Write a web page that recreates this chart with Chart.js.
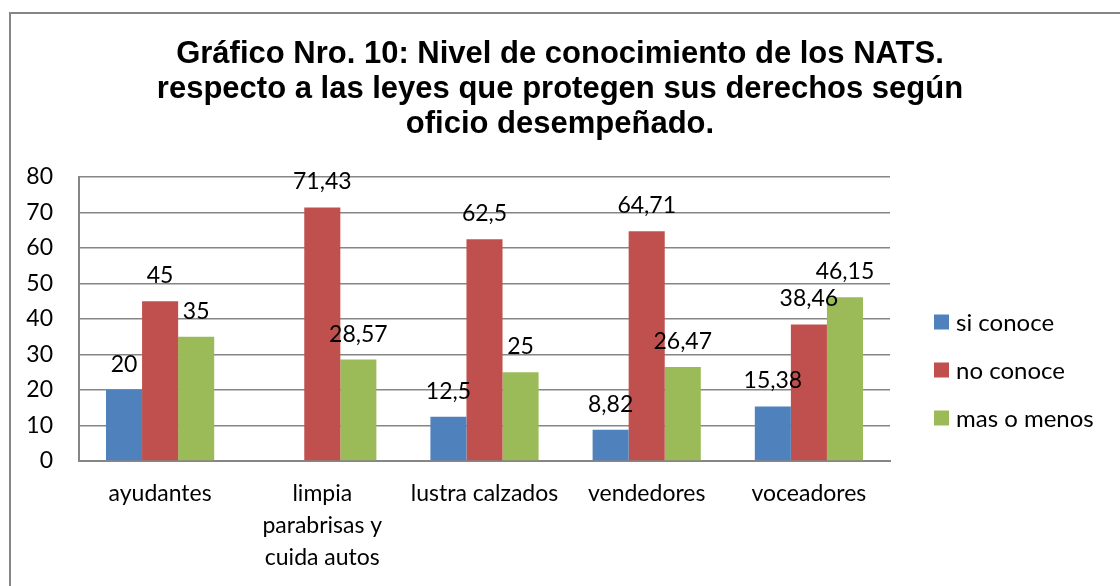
<!DOCTYPE html>
<html>
<head>
<meta charset="utf-8">
<script src="https://cdn.jsdelivr.net/npm/chart.js@4.4.1/dist/chart.umd.min.js"></script>
<style>
  html, body { margin: 0; padding: 0; background: #fff; }
  #wrap { width: 1120px; height: 586px; position: relative; }
</style>
</head>
<body>
<div id="wrap"><canvas id="c" width="1120" height="586"></canvas></div>
<script>
const categories = ['ayudantes', ['limpia', 'parabrisas y', 'cuida autos'], 'lustra calzados', 'vendedores', 'voceadores'];
const seriesNames = ['si conoce', 'no conoce', 'mas o menos'];
const siConoce = [20, null, 12.5, 8.82, 15.38];
const noConoce = [45, 71.43, 62.5, 64.71, 38.46];
const masOMenos = [35, 28.57, 25, 26.47, 46.15];
const yTicks = [0, 10, 20, 30, 40, 50, 60, 70, 80];
const titleLines = ['Gráfico Nro. 10: Nivel de conocimiento de los NATS.', 'respecto a las leyes que protegen sus derechos según', 'oficio desempeñado.'];

const colors = ['#4F81BD', '#C0504D', '#9BBB59'];
const bodyFont = 'Lato, "Open Sans", sans-serif';

const framePlugin = {
  id: 'frame',
  beforeDraw(chart) {
    const ctx = chart.ctx;
    ctx.save();
    ctx.fillStyle = '#fff';
    ctx.fillRect(0, 0, chart.width, chart.height);
    ctx.strokeStyle = '#868686';
    ctx.lineWidth = 2;
    ctx.beginPath();
    ctx.moveTo(10, chart.height + 2);
    ctx.lineTo(10, 13);
    ctx.lineTo(chart.width + 2, 13);
    ctx.stroke();
    ctx.restore();
  }
};

const labelPlugin = {
  id: 'valueLabels',
  afterDatasetsDraw(chart) {
    const ctx = chart.ctx;
    ctx.save();
    ctx.font = '23px ' + bodyFont;
    ctx.fillStyle = '#000';
    ctx.textAlign = 'center';
    ctx.textBaseline = 'alphabetic';
    chart.data.datasets.forEach((ds, i) => {
      const meta = chart.getDatasetMeta(i);
      meta.data.forEach((bar, j) => {
        const v = ds.data[j];
        if (v === null || v === undefined) return;
        ctx.fillText(String(v).replace('.', ','), bar.x, bar.y - 18);
      });
    });
    ctx.restore();
  }
};

const legendPlugin = {
  id: 'customLegend',
  afterDraw(chart) {
    const ctx = chart.ctx;
    ctx.save();
    ctx.font = '24px ' + bodyFont;
    ctx.textBaseline = 'middle';
    ctx.textAlign = 'left';
    chart.data.datasets.forEach((ds, i) => {
      const cy = 322 + i * 48;
      ctx.fillStyle = ds.backgroundColor;
      ctx.fillRect(934, cy - 7.5, 15, 15);
      ctx.fillStyle = '#000';
      ctx.fillText(ds.label, 956, cy + 1);
    });
    ctx.restore();
  }
};

new Chart(document.getElementById('c'), {
  type: 'bar',
  data: {
    labels: categories,
    datasets: [
      { label: seriesNames[0], data: siConoce, backgroundColor: colors[0] },
      { label: seriesNames[1], data: noConoce, backgroundColor: colors[1] },
      { label: seriesNames[2], data: masOMenos, backgroundColor: colors[2] }
    ]
  },
  options: {
    responsive: false,
    animation: false,
    events: [],
    layout: { padding: 0 },
    datasets: { bar: { categoryPercentage: 0.667, barPercentage: 1.0 } },
    plugins: {
      legend: { display: false },
      tooltip: { enabled: false },
      title: {
        display: true,
        text: titleLines,
        color: '#000',
        font: { family: '"Liberation Sans", Arial, sans-serif', size: 31, weight: 'bold', lineHeight: 35 / 31 },
        padding: { top: 37, bottom: 35 }
      }
    },
    scales: {
      x: {
        grid: { display: false, drawTicks: false },
        border: { display: true, color: '#868686', width: 2 },
        ticks: { color: '#000', font: { family: bodyFont, size: 23, lineHeight: 32 / 23 }, padding: 17, maxRotation: 0, autoSkip: false },
        afterFit(scale) { scale.height = 125; }
      },
      y: {
        min: 0, max: 80,
        afterBuildTicks(scale) { scale.ticks = yTicks.map(v => ({ value: v })); },
        grid: { color: '#868686', lineWidth: 1.5, drawTicks: false },
        border: { display: true, color: '#868686', width: 2 },
        ticks: { color: '#000', font: { family: bodyFont, size: 23 }, padding: 26 },
        afterFit(scale) { scale.width = 79; }
      },
      yRight: {
        position: 'right',
        min: 0, max: 80,
        grid: { display: false, drawTicks: false },
        border: { display: false },
        ticks: { display: false },
        afterFit(scale) { scale.width = 230; }
      }
    }
  },
  plugins: [framePlugin, labelPlugin, legendPlugin]
});
</script>
</body>
</html>
